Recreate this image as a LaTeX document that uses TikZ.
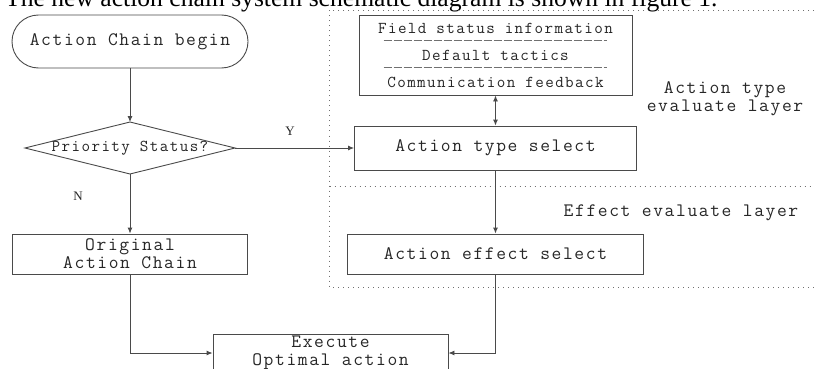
\documentclass[tikz,border=0pt]{standalone}
\usepackage{fontspec}
\setmainfont{Liberation Serif}
\newfontfamily\monof{Latin Modern Mono}[LetterSpace=8.5]
\usetikzlibrary{arrows.meta,calc}
\definecolor{linec}{HTML}{4A4A4A}
\definecolor{textc}{HTML}{262626}
\definecolor{dotc}{HTML}{707070}
\tikzset{
  big/.style={font=\monof\fontsize{19}{18}\selectfont, text=textc},
  small/.style={font=\monof\fontsize{16.6}{27}\selectfont, text=textc},
  boxnode/.style={draw=linec, line width=0.9pt, inner sep=0pt, align=center},
  conn/.style={draw=linec, line width=0.9pt, -{Latex[length=6pt,width=5pt]}},
  dconn/.style={draw=linec, line width=0.9pt, {Latex[length=6pt,width=5pt]}-{Latex[length=6pt,width=5pt]}},
  layerline/.style={draw=dotc, line width=0.9pt, dash pattern=on 1pt off 4pt},
  seprule/.style={draw=dotc, line width=0.8pt, dash pattern=on 8.5pt off 1.5pt},
  yn/.style={font=\fontsize{13}{13}\selectfont, text=textc, inner sep=0pt},
}
\begin{document}
\begin{tikzpicture}[x=1pt,y=-1pt]
\useasboundingbox (0,0) rectangle (814,369);
\fill[white] (0,0) rectangle (814,369);
% title line (cropped at the top, as in the source)
\node[anchor=base west, inner sep=0pt, font=\fontsize{25.6}{30}\selectfont, text=black] (title) at (5,6.5) {The new action chain system schematic diagram is shown in figure 1.};
% layer frames
\draw[layerline] (814,10) -- (329.5,10) -- (329.5,287) -- (814,287);
\draw[layerline] (329.5,186.5) -- (814,186.5);
% nodes
\node[boxnode, big, rounded corners=26.5pt, minimum width=236pt, minimum height=53pt] (start) at (130,41.5) {Action Chain begin};
\node[small, inner sep=0pt] (dec) at (130,148) {Priority Status?};
\coordinate (dN) at (130,122);
\coordinate (dE) at (235,148);
\coordinate (dS) at (130,174);
\coordinate (dW) at (25,148);
\draw[linec, line width=0.9pt] (dN) -- (dE) -- (dS) -- (dW) -- cycle;
\node[boxnode, small, minimum width=273pt, minimum height=80pt] (info) at (495.5,55) {Field status information\\Default tactics\\Communication feedback};
\draw[seprule] ($(info.center)+(-112,-14.5)$) -- ++(223,0);
\draw[seprule] ($(info.center)+(-112,12.5)$) -- ++(223,0);
\node[boxnode, big, minimum width=282pt, minimum height=44pt] (type) at (495.5,148) {Action type select};
\node[boxnode, big, minimum width=296pt, minimum height=40pt] (effect) at (495.5,254) {Action effect select};
\node[boxnode, big, minimum width=235pt, minimum height=40pt] (orig) at (130,254) {Original\\Action Chain};
\node[boxnode, big, minimum width=235pt, minimum height=38pt] (exec) at (330.5,353) {Execute\\Optimal action};
\node[big, align=center, inner sep=0pt] (lay1) at (725,99) {Action type\\evaluate layer};
\node[big, inner sep=0pt] (lay2) at (681,213) {Effect evaluate layer};
\node[yn] (ylab) at (290,131) {Y};
\node[yn] (nlab) at (78,196) {N};
% connectors
\draw[conn] (start) -- (dN);
\draw[conn] (dE) -- (type.west);
\draw[conn] (dS) -- (orig);
\draw[dconn] (info) -- (type);
\draw[conn] (type) -- (effect);
\draw[conn] (orig.south) |- (exec.west);
\draw[conn] (effect.south) |- (exec.east);
\end{tikzpicture}
\end{document}
